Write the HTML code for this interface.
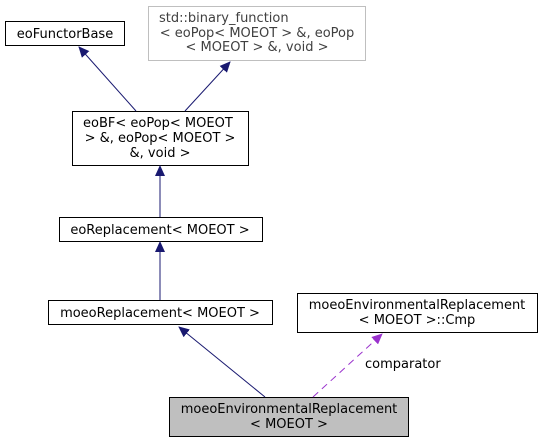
<!DOCTYPE html>
<html><head><meta charset="utf-8"><style>
html,body{margin:0;padding:0;background:#fff;width:542px;height:443px;overflow:hidden}
text{font-family:"DejaVu Sans","Liberation Sans",sans-serif;font-size:13px;fill:#000}
</style></head><body>
<svg width="542" height="443" viewBox="0 0 542 443" xmlns="http://www.w3.org/2000/svg">
<defs>
<marker id="a" markerWidth="11" markerHeight="10" refX="10" refY="5" orient="auto" markerUnits="userSpaceOnUse"><path d="M0,0 L11,5 L0,10 z" fill="#191970"/></marker>
<marker id="p" markerWidth="11" markerHeight="10" refX="10" refY="5" orient="auto" markerUnits="userSpaceOnUse"><path d="M0,0 L11,5 L0,10 z" fill="#9a32cd"/></marker>
</defs>
<rect x="5.5" y="21.5" width="119" height="24" fill="#fff" stroke="#000"/>
<text x="65" y="38" text-anchor="middle">eoFunctorBase</text>
<rect x="148.5" y="6.5" width="217" height="54" fill="#fff" stroke="#bfbfbf"/>
<text x="159" y="22" style="fill:#404040">std::binary_function</text>
<text x="257" y="37" text-anchor="middle" style="fill:#404040">&lt; eoPop&lt; MOEOT &gt; &amp;, eoPop</text>
<text x="257" y="51" text-anchor="middle" style="fill:#404040">&lt; MOEOT &gt; &amp;, void &gt;</text>
<rect x="72.5" y="111.5" width="176" height="54" fill="#fff" stroke="#000"/>
<text x="83" y="127">eoBF&lt; eoPop&lt; MOEOT</text>
<text x="160" y="142" text-anchor="middle">&gt; &amp;, eoPop&lt; MOEOT &gt;</text>
<text x="160" y="157" text-anchor="middle">&amp;, void &gt;</text>
<rect x="59.5" y="217.5" width="203" height="24" fill="#fff" stroke="#000"/>
<text x="160" y="234" text-anchor="middle">eoReplacement&lt; MOEOT &gt;</text>
<rect x="48.5" y="300.5" width="224" height="24" fill="#fff" stroke="#000"/>
<text x="160" y="317" text-anchor="middle">moeoReplacement&lt; MOEOT &gt;</text>
<rect x="297.5" y="293.5" width="240" height="39" fill="#fff" stroke="#000"/>
<text x="417" y="309" text-anchor="middle">moeoEnvironmentalReplacement</text>
<text x="417" y="324" text-anchor="middle">&lt; MOEOT &gt;::Cmp</text>
<rect x="169.5" y="397.5" width="239" height="39" fill="#bfbfbf" stroke="#000"/>
<text x="289" y="413" text-anchor="middle">moeoEnvironmentalReplacement</text>
<text x="289" y="428" text-anchor="middle">&lt; MOEOT &gt;</text>
<line x1="136" y1="111" x2="79" y2="47" stroke="#191970" marker-end="url(#a)"/>
<line x1="185" y1="111" x2="230" y2="62" stroke="#191970" marker-end="url(#a)"/>
<line x1="160" y1="217" x2="160" y2="166" stroke="#191970" marker-end="url(#a)"/>
<line x1="160" y1="300" x2="160" y2="242" stroke="#191970" marker-end="url(#a)"/>
<line x1="265" y1="397" x2="179" y2="327" stroke="#191970" marker-end="url(#a)"/>
<line x1="313" y1="397" x2="382" y2="334" stroke="#9a32cd" stroke-dasharray="7,5" marker-end="url(#p)"/>
<text x="365" y="368">comparator</text>
</svg>
</body></html>
